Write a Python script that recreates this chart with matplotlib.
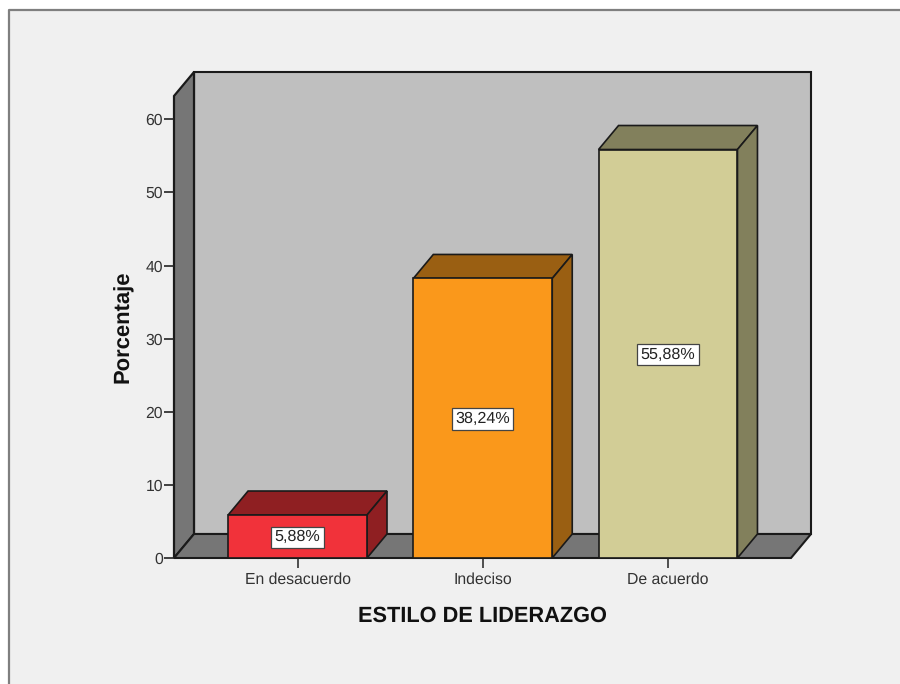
import matplotlib
matplotlib.use('Agg')
import matplotlib.pyplot as plt
from matplotlib.patches import Polygon, Rectangle

categories = ['En desacuerdo', 'Indeciso', 'De acuerdo']
values = [5.88, 38.24, 55.88]
labels = ['5,88%', '38,24%', '55,88%']
front_colors = ['#f1323a', '#fa981b', '#d2cd96']
side_colors = ['#8f1f22', '#9a5f12', '#82805c']
yticks = [0, 10, 20, 30, 40, 50, 60]

W, H = 900, 684
plt.rcParams['font.family'] = ['Liberation Sans', 'DejaVu Sans']
plt.rcParams['text.hinting'] = 'no_hinting'
fig = plt.figure(figsize=(W / 100, H / 100), dpi=100, facecolor='white')

# grey panel with frame on top and left only
bg = fig.add_axes([0, 0, 1, 1])
bg.set_xlim(0, W)
bg.set_ylim(H, 0)
bg.axis('off')
bg.add_patch(Rectangle((9, 10), W, H, fc='#f0f0f0', ec='none'))
bg.plot([9, 9, W], [H, 10, 10], color='#7f7f7f', lw=1.6)

# axes = front plane of the 3d box
left, right, bottom, top = 174, 791, 558, 96
ax = fig.add_axes([left / W, 1 - bottom / H, (right - left) / W, (bottom - top) / H])
ax.patch.set_alpha(0)
ax.set_xlim(-0.667, 2.664)
ax.set_ylim(0, 63.2)
for s in ['top', 'right', 'left', 'bottom']:
    ax.spines[s].set_visible(False)

x0, x1 = ax.get_xlim()
y0, y1 = ax.get_ylim()
dx = 20 / 185.25
dy = 24 / 7.31
bar_w = 0.75
edge = '#1a1a1a'


def poly(pts, fc, lw=1.2, z=1):
    ax.add_patch(Polygon(pts, closed=True, fc=fc, ec=edge, lw=lw, zorder=z,
                         clip_on=False, joinstyle='miter'))


# walls
poly([(x0 + dx, y0 + dy), (x1 + dx, y0 + dy), (x1 + dx, y1 + dy), (x0 + dx, y1 + dy)], '#bfbfbf', lw=1.5)
poly([(x0, y0), (x0 + dx, y0 + dy), (x0 + dx, y1 + dy), (x0, y1)], '#767676', lw=1.6)
poly([(x0, y0), (x1, y0), (x1 + dx, y0 + dy), (x0 + dx, y0 + dy)], '#767676', lw=1.5)

# bars
for i, v in enumerate(values):
    a, b = i - bar_w / 2, i + bar_w / 2
    poly([(a, v), (b, v), (b + dx, v + dy), (a + dx, v + dy)], side_colors[i], z=3)
    poly([(b, 0), (b + dx, dy), (b + dx, v + dy), (b, v)], side_colors[i], z=3)
    poly([(a, 0), (b, 0), (b, v), (a, v)], front_colors[i], z=3)
    ax.text(i, v / 2 - 0.1, labels[i], ha='center', va='center', fontsize=11.6, color='#222222', zorder=5,
            bbox=dict(boxstyle='square,pad=0.2', fc='white', ec='#444444', lw=0.9))

ax.set_xticks(range(3))
ax.set_xticklabels(categories, fontsize=11.3, color='#333333')
ax.set_yticks(yticks)
ax.set_yticklabels([str(t) for t in yticks], fontsize=11.3, color='#333333')
ax.tick_params(axis='x', length=7, width=1.2, color='#333333', pad=3.5)
ax.tick_params(axis='y', length=7, width=1.2, color='#222222', pad=1)
ax.set_xlabel('ESTILO DE LIDERAZGO', fontsize=15.7, fontweight='bold', color='#111111', labelpad=13)
ax.set_ylabel('Porcentaje', fontsize=15.8, fontweight='bold', color='#111111')
ax.yaxis.set_label_coords((134 - left) / (right - left), (bottom - 327) / (bottom - top))

fig.savefig('out.png', dpi=100)
